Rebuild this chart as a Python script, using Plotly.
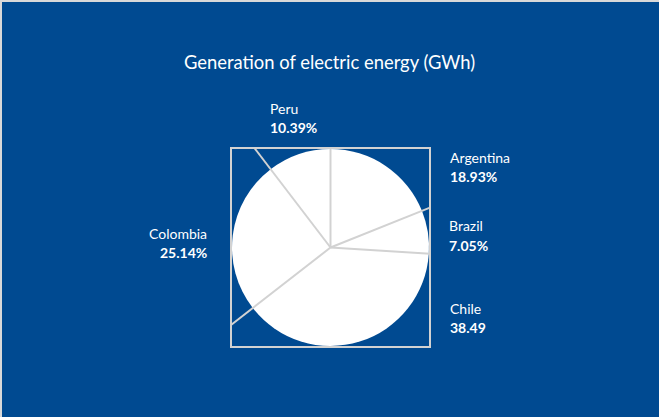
import math
import plotly.graph_objects as go

# ---- data ----
countries = ["Argentina", "Brazil", "Chile", "Colombia", "Peru"]
shares = [18.93, 7.05, 38.49, 25.14, 10.39]
share_labels = ["18.93%", "7.05%", "38.49", "25.14%", "10.39%"]
title_text = "Generation of electric energy (GWh)"

# ---- layout constants (pixels) ----
W, H = 659, 417
BG = "#004A91"
LINE = "#D2D2D2"
FONT = "Lato"
cx, cy, r = 330.5, 247.5, 98.5     # pie centre / radius
half = 99.5                         # half size of the square frame


def px(x):
    return x / W


def py(y):
    return 1 - y / H


fig = go.Figure()
fig.add_trace(go.Pie(
    labels=countries,
    values=shares,
    sort=False,
    direction="clockwise",
    rotation=0,
    textinfo="none",
    marker=dict(colors=["#FFFFFF"] * len(shares), line=dict(color=LINE, width=0)),
    domain=dict(x=[px(cx - r), px(cx + r)], y=[py(cy + r), py(cy - r)]),
    showlegend=False,
    hoverinfo="label+percent",
))

shapes = []
# square frame
shapes.append(dict(type="rect", xref="paper", yref="paper",
                   x0=px(cx - half), x1=px(cx + half),
                   y0=py(cy + half), y1=py(cy - half),
                   line=dict(color=LINE, width=2)))
# slice border rays, extended to the frame
total = sum(shares)
cum = 0.0
for v in shares:
    ang = cum / total * 2 * math.pi
    dx, dy = math.sin(ang), -math.cos(ang)
    t = half / max(abs(dx), abs(dy))
    shapes.append(dict(type="line", xref="paper", yref="paper",
                       x0=px(cx), y0=py(cy),
                       x1=px(cx + dx * t), y1=py(cy + dy * t),
                       line=dict(color=LINE, width=2)))
    cum += v
# light border at top and left edge of the image
shapes.append(dict(type="rect", xref="paper", yref="paper", x0=0, x1=1,
                   y0=py(2), y1=1, fillcolor="#D9D9D9", line=dict(width=0)))
shapes.append(dict(type="rect", xref="paper", yref="paper", x0=0, x1=px(2),
                   y0=0, y1=1, fillcolor="#D9D9D9", line=dict(width=0)))

# label positions: (x, y_name, y_value, anchor)
label_pos = {
    "Argentina": (448, 157, 176, "left"),
    "Brazil": (447, 226, 245, "left"),
    "Chile": (448, 308, 327, "left"),
    "Colombia": (209, 233, 252, "right"),
    "Peru": (268, 109, 128, "left"),
}
annotations = []
for name, lab in zip(countries, share_labels):
    x, yn, yv, anc = label_pos[name]
    annotations.append(dict(x=px(x), y=py(yn), xref="paper", yref="paper",
                            text=name, showarrow=False, xanchor=anc, yanchor="middle",
                            font=dict(family=FONT, size=14, color="white")))
    annotations.append(dict(x=px(x), y=py(yv), xref="paper", yref="paper",
                            text="<b>" + lab + "</b>", showarrow=False, xanchor=anc,
                            yanchor="middle",
                            font=dict(family=FONT, size=14, color="white")))

fig.update_layout(
    width=W, height=H,
    margin=dict(l=0, r=0, t=0, b=0),
    paper_bgcolor=BG, plot_bgcolor=BG,
    title=dict(text=title_text, x=0.5, xanchor="center", y=py(63), yanchor="middle",
               font=dict(family=FONT, size=18.4, color="white")),
    shapes=shapes,
    annotations=annotations,
)

fig.write_html("out.html",
               config={"displayModeBar": False},
               post_script="document.body.style.margin='0';document.body.style.overflow='hidden';")
